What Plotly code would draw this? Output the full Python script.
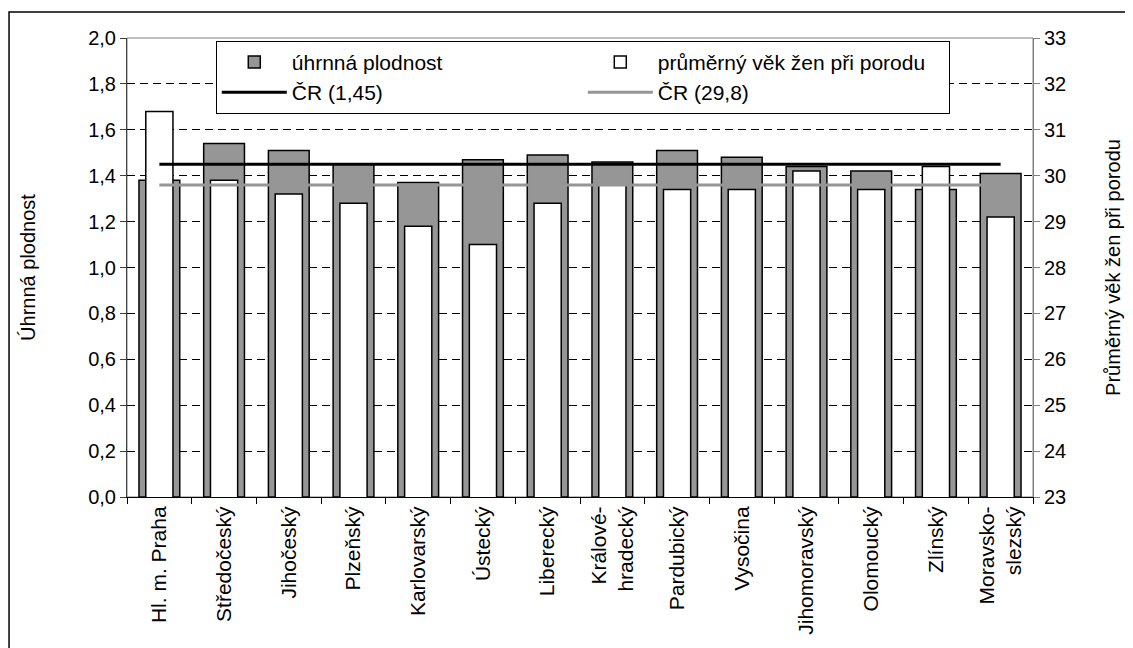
import plotly.graph_objects as go

# Kraje CR
regions = ["Hl. m. Praha", "Středočeský", "Jihočeský", "Plzeňský", "Karlovarský",
           "Ústecký", "Liberecký", "Králové-<br>hradecký", "Pardubický", "Vysočina",
           "Jihomoravský", "Olomoucký", "Zlínský", "Moravsko-<br>slezský"]
fertility = [1.38, 1.54, 1.51, 1.45, 1.37, 1.47, 1.49, 1.46, 1.51, 1.48, 1.44, 1.42, 1.34, 1.41]
mean_age = [31.4, 29.9, 29.6, 29.4, 28.9, 28.5, 29.4, 29.8, 29.7, 29.7, 30.1, 29.7, 30.2, 29.1]
cr_fertility = 1.45
cr_age = 29.8

grey = "#969696"
font = "Liberation Sans, Arial, sans-serif"

fig = go.Figure()

# draw order: grey bars, white bars, grey line, black line (own overlay axis so it sits on top)
fig.add_trace(go.Bar(x=regions, y=fertility, name="úhrnná plodnost", width=0.63,
                     marker=dict(color=grey, line=dict(color="black", width=1.5)),
                     yaxis="y", legendrank=1))
fig.add_trace(go.Bar(x=regions, y=mean_age, name="průměrný věk žen při porodu",
                     width=0.42, marker=dict(color="white", line=dict(color="black", width=1.5)),
                     yaxis="y2", legendrank=2))
fig.add_trace(go.Scatter(x=[regions[0], regions[-1]], y=[cr_age, cr_age],
                         mode="lines", name="ČR (29,8)", line=dict(color=grey, width=3),
                         yaxis="y2", legendrank=4))
fig.add_trace(go.Scatter(x=[regions[0], regions[-1]], y=[cr_fertility, cr_fertility],
                         mode="lines", name="ČR (1,45)", line=dict(color="black", width=3),
                         yaxis="y3", legendrank=3))

# page body has an 8px margin -> figure is 8px smaller
fig.update_layout(
    width=1125, height=640,
    margin=dict(l=119, r=100, t=30, b=151, autoexpand=False),
    paper_bgcolor="white", plot_bgcolor="white",
    font=dict(family=font, size=20, color="black"),
    separators=", ",
    barmode="overlay",
    showlegend=True,
    legend=dict(orientation="h", x=0.098, y=0.994, xanchor="left", yanchor="top",
                bgcolor="white", bordercolor="black", borderwidth=1,
                font=dict(size=21), entrywidth=286, traceorder="normal",
                tracegroupgap=0, itemwidth=65),
    xaxis=dict(type="category", tickangle=-90, tickson="boundaries", ticks="outside",
               ticklen=6, tickcolor="black", showline=True, linecolor="black", linewidth=1,
               tickfont=dict(size=21), showgrid=False, automargin=False),
    yaxis=dict(range=[0, 2], dtick=0.2, tickformat=".1f", ticks="outside", ticklen=6,
               tickcolor="#404040", showline=True, linecolor="#404040", linewidth=1,
               showgrid=True, gridcolor="black", griddash="8px,5px", gridwidth=1,
               zeroline=False, automargin=False,
               title=dict(text="Úhrnná plodnost", font=dict(size=20), standoff=47)),
    yaxis2=dict(range=[23, 33], dtick=1, overlaying="y", side="right", ticks="outside",
                ticklen=6, tickcolor="#808080", showline=True, linecolor="#808080",
                showgrid=False, zeroline=False, automargin=False,
                title=dict(text="Průměrný věk žen při porodu", font=dict(size=20), standoff=40)),
    yaxis3=dict(range=[0, 2], overlaying="y", visible=False),
)

# plot area border + outer frame
fig.add_shape(type="rect", xref="paper", yref="paper", x0=0, x1=1, y0=0, y1=1,
              line=dict(color="#808080", width=1), layer="below")
fig.add_shape(type="rect", xref="paper", yref="paper", x0=-0.1302, x1=1.2, y0=-0.5, y1=1.0566,
              line=dict(color="black", width=1.5), layer="below")

fig.write_html("out.html")
